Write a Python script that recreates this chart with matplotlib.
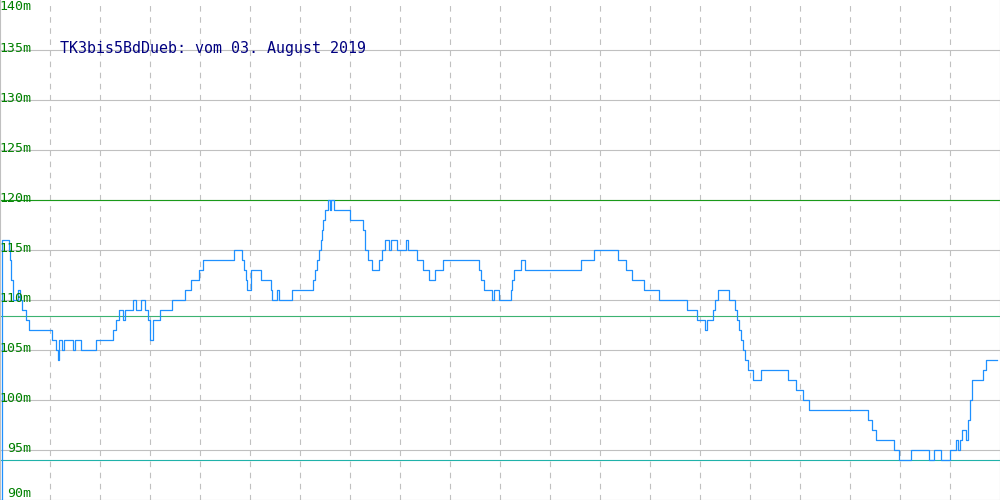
import numpy as np
import matplotlib
matplotlib.use('Agg')
import matplotlib.pyplot as plt

# sample position along the day and height level (m), step changes
pos = [0, 2, 9, 10, 11, 13, 18, 20, 22, 26, 29, 52, 56, 58, 59, 62, 64, 73, 75, 81,
       96, 113, 116, 119, 123, 125, 133, 136, 141, 145, 148, 150, 153, 160, 172, 185,
       191, 199, 203, 234, 242, 244, 246, 247, 251, 261, 271, 272, 277, 279, 292, 313,
       315, 317, 319, 321, 322, 323, 325, 328, 330, 331, 334, 350, 363, 365, 368, 372,
       379, 382, 385, 389, 391, 397, 406, 408, 417, 423, 429, 435, 443, 479, 481, 484,
       492, 494, 499, 511, 512, 514, 521, 525, 581, 594, 618, 626, 632, 644, 659, 687,
       697, 705, 707, 713, 715, 718, 729, 735, 737, 739, 741, 743, 745, 748, 753, 761,
       788, 796, 803, 809, 868, 872, 876, 894, 899, 911, 929, 934, 941, 950, 956, 958,
       960, 962, 966, 968, 970, 972, 983, 986, 997]
height = [90, 116, 115, 114, 112, 110, 111, 110, 109, 108, 107, 106, 105, 104, 106, 105, 106, 105, 106, 105,
          106, 107, 108, 109, 108, 109, 110, 109, 110, 109, 108, 106, 108, 109, 110, 111,
          112, 113, 114, 115, 114, 113, 112, 111, 113, 112, 111, 110, 111, 110, 111, 112,
          113, 114, 115, 116, 117, 118, 119, 120, 119, 120, 119, 118, 117, 115, 114, 113,
          114, 115, 116, 115, 116, 115, 116, 115, 114, 113, 112, 113, 114, 113, 112, 111,
          110, 111, 110, 111, 112, 113, 114, 113, 114, 115, 114, 113, 112, 111, 110, 109,
          108, 107, 108, 109, 110, 111, 110, 109, 108, 107, 106, 105, 104, 103, 102, 103,
          102, 101, 100, 99, 98, 97, 96, 95, 94, 95, 94, 95, 94, 95, 96, 95,
          96, 97, 96, 98, 100, 102, 103, 104, 104]

ref_lines = [120.0, 108.4, 94.0]
ref_colors = ['#1a9a1a', '#3cb371', '#20b2aa']
y_ticks = [90, 95, 100, 105, 110, 115, 120, 125, 130, 135, 140]
title = 'TK3bis5BdDueb: vom 03. August 2019'

fig = plt.figure(figsize=(10, 5), dpi=100)
ax = fig.add_axes([0, 0, 1, 1])
ax.set_xlim(0, 1000)
ax.set_ylim(90, 140)

for v in y_ticks[1:-1]:
    ax.axhline(v, color='#c0c0c0', lw=0.8, zorder=1)
for xv in range(50, 1000, 50):
    ax.axvline(xv, color='#c0c0c0', lw=0.8, ls=(0, (5, 5)), zorder=1)

for v, c in zip(ref_lines, ref_colors):
    ax.axhline(v, color=c, lw=0.8, zorder=2)

ax.plot(pos, height, color='#1e90ff', lw=0.9, drawstyle='steps-post', zorder=3)

for v in y_ticks:
    va = 'center'
    if v == 140:
        va = 'top'
    elif v == 90:
        va = 'bottom'
    ax.text(31, v + (0.15 if va == 'center' else 0), f'{v}m', color='#008000',
            fontsize=9.5, family='DejaVu Sans Mono', ha='right', va=va, zorder=4)

ax.text(60, 135.2, title, color='#000080', fontsize=10.8, family='DejaVu Sans Mono',
        ha='left', va='center', zorder=4)

ax.set_xticks([])
ax.set_yticks([])
for s in ax.spines.values():
    s.set_color('#c0c0c0')
ax.spines['top'].set_visible(False)

fig.savefig('out.png', dpi=100)
